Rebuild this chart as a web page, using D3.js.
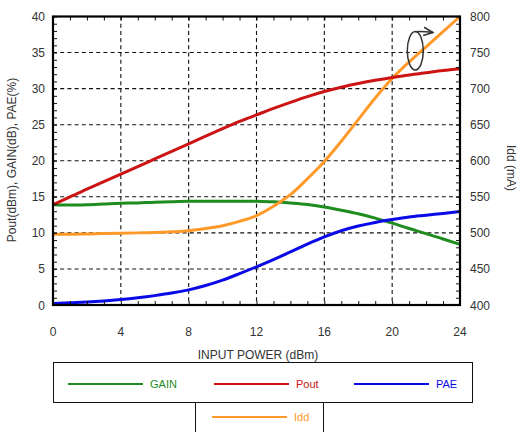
<!DOCTYPE html>
<html>
<head>
<meta charset="utf-8">
<script src="https://cdn.jsdelivr.net/npm/d3@7"></script>
<style>
  html, body { margin: 0; padding: 0; background: #fff; }
  svg { display: block; font-family: "Liberation Sans", Arial, sans-serif; }
</style>
</head>
<body>
<svg id="chart" width="520" height="432"></svg>
<script>
// Input power sweep (dBm)
const inputPower = [0,1,2,3,4,5,6,7,8,9,10,11,12,13,14,15,16,17,18,19,20,21,22,23,24];
// Output power (dBm)
const pout = [13.9,15.0,16.05,17.1,18.15,19.2,20.25,21.3,22.35,23.4,24.45,25.45,26.35,27.25,28.1,28.9,29.6,30.2,30.7,31.15,31.55,31.9,32.2,32.5,32.75];
// Gain (dB)
const gain = [13.9,13.85,13.9,14.0,14.1,14.15,14.25,14.3,14.4,14.4,14.4,14.4,14.4,14.3,14.15,13.95,13.6,13.15,12.65,12.05,11.35,10.6,9.9,9.15,8.4];
// Power added efficiency (%)
const pae = [0.2,0.3,0.4,0.55,0.75,1.0,1.3,1.65,2.1,2.7,3.45,4.35,5.3,6.3,7.35,8.45,9.45,10.3,10.95,11.45,11.85,12.2,12.45,12.7,12.95];
// Drain current (mA)
const idd = [498,498,498.5,499,499.5,500,500.5,501.5,503,506,510,516,524,537,553,575,599,627,657,687,714,737,758,779,800];

const xTicks = [0,4,8,12,16,20,24];
const yLeftTicks = [0,5,10,15,20,25,30,35,40];
const yRightTicks = [400,450,500,550,600,650,700,750,800];

const colors = { gain: "#1e8c1e", pout: "#cc1414", pae: "#0a0ae6", idd: "#ff9a2a" };

const svg = d3.select("#chart");
const L = 53, R = 460, T = 16.5, B = 305;

const x = d3.scaleLinear().domain([0, 24]).range([L, R]);
const yL = d3.scaleLinear().domain([0, 40]).range([B, T]);
const yR = d3.scaleLinear().domain([400, 800]).range([B, T]);

// dashed grid
const grid = svg.append("g").attr("stroke", "#111").attr("stroke-width", 1.1).attr("stroke-dasharray", "4,3.2");
xTicks.slice(1, -1).forEach(v => {
  grid.append("line").attr("x1", x(v)).attr("x2", x(v)).attr("y1", T).attr("y2", B);
});
yLeftTicks.slice(1, -1).forEach(v => {
  grid.append("line").attr("x1", L).attr("x2", R).attr("y1", yL(v)).attr("y2", yL(v));
});

// series
const lineFor = (ys, scale) => d3.line()
  .x((d, i) => x(inputPower[i]))
  .y(d => scale(d))
  .curve(d3.curveMonotoneX)(ys);

const series = [
  { v: gain, s: yL, c: colors.gain },
  { v: idd, s: yR, c: colors.idd },
  { v: pae, s: yL, c: colors.pae },
  { v: pout, s: yL, c: colors.pout }
];
series.forEach(d => {
  svg.append("path").attr("d", lineFor(d.v, d.s))
    .attr("fill", "none").attr("stroke", d.c).attr("stroke-width", 3)
    .attr("stroke-linejoin", "round").attr("stroke-linecap", "butt");
});

// axes with inward ticks
const tickLen = 4;
const bottomAxis = d3.axisBottom(x).tickValues(d3.range(0, 25, 1)).tickSize(-tickLen).tickFormat("");
const topAxis = d3.axisTop(x).tickValues(d3.range(0, 25, 1)).tickSize(-tickLen).tickFormat("");
const leftAxis = d3.axisLeft(yL).tickValues(d3.range(0, 41, 1)).tickSize(-tickLen).tickFormat("");
const rightAxis = d3.axisRight(yR).tickValues(d3.range(400, 801, 10)).tickSize(-tickLen).tickFormat("");

function styleAxis(g) {
  g.select(".domain").remove();
  g.selectAll(".tick line").attr("stroke", "#111").attr("stroke-width", 1);
}
svg.append("g").attr("transform", `translate(0,${B})`).call(bottomAxis).call(styleAxis);
svg.append("g").attr("transform", `translate(0,${T})`).call(topAxis).call(styleAxis);
svg.append("g").attr("transform", `translate(${L},0)`).call(leftAxis).call(styleAxis);
svg.append("g").attr("transform", `translate(${R},0)`).call(rightAxis).call(styleAxis);

// frame
svg.append("rect").attr("x", L).attr("y", T).attr("width", R - L).attr("height", B - T)
  .attr("fill", "none").attr("stroke", "#000").attr("stroke-width", 2.2);

// tick labels
const labelColor = "#333";
svg.append("g").selectAll("text").data(xTicks).join("text")
  .attr("x", d => x(d)).attr("y", 336).attr("text-anchor", "middle")
  .attr("font-size", 12).attr("fill", labelColor).text(d => d);
svg.append("g").selectAll("text").data(yLeftTicks).join("text")
  .attr("x", 45).attr("y", d => yL(d) + 4.5).attr("text-anchor", "end")
  .attr("font-size", 12).attr("fill", labelColor).text(d => d);
svg.append("g").selectAll("text").data(yRightTicks).join("text")
  .attr("x", 470).attr("y", d => yR(d) + 4.5).attr("text-anchor", "start")
  .attr("font-size", 12).attr("fill", labelColor).text(d => d);

// axis titles
svg.append("text").attr("x", 258).attr("y", 359).attr("text-anchor", "middle")
  .attr("font-size", 12).attr("fill", labelColor).text("INPUT POWER (dBm)");
svg.append("text").attr("transform", `translate(16,160) rotate(-90)`).attr("text-anchor", "middle")
  .attr("font-size", 12).attr("fill", labelColor).text("Pout(dBm), GAIN(dB), PAE(%)");
svg.append("text").attr("transform", `translate(507,168) rotate(90)`).attr("text-anchor", "middle")
  .attr("font-size", 12).attr("fill", labelColor).text("Idd (mA)");

// ellipse marker with arrow pointing to the right axis
svg.append("defs").append("marker").attr("id", "arrow").attr("viewBox", "0 0 10 10")
  .attr("refX", 9).attr("refY", 5).attr("markerWidth", 7).attr("markerHeight", 7)
  .attr("orient", "auto").append("path").attr("d", "M0,1 L9,5 L0,9")
  .attr("fill", "none").attr("stroke", "#333").attr("stroke-width", 1.5);
svg.append("ellipse").attr("cx", 415.3).attr("cy", 50.8).attr("rx", 8).attr("ry", 19.2)
  .attr("fill", "none").attr("stroke", "#333").attr("stroke-width", 1.5);
svg.append("path").attr("d", "M415,31.8 Q420,31 433,32.5")
  .attr("fill", "none").attr("stroke", "#333").attr("stroke-width", 1.5)
  .attr("marker-end", "url(#arrow)");

// legend
const legendItems = [
  { name: "GAIN", c: colors.gain, x1: 68, y: 384 },
  { name: "Pout", c: colors.pout, x1: 214, y: 384 },
  { name: "PAE", c: colors.pae, x1: 354, y: 384 },
  { name: "Idd", c: colors.idd, x1: 212, y: 417 }
];
svg.append("rect").attr("x", 53.5).attr("y", 362.5).attr("width", 419).attr("height", 40)
  .attr("fill", "none").attr("stroke", "#111").attr("stroke-width", 1);
svg.append("path").attr("d", "M195.5,440 L195.5,402.5 L323.5,402.5 L323.5,440")
  .attr("fill", "none").attr("stroke", "#111").attr("stroke-width", 1);
const lg = svg.append("g").selectAll("g").data(legendItems).join("g");
lg.append("line").attr("x1", d => d.x1).attr("x2", d => d.x1 + 75)
  .attr("y1", d => d.y).attr("y2", d => d.y).attr("stroke", d => d.c).attr("stroke-width", 2.2);
lg.append("text").attr("x", d => d.x1 + 82).attr("y", d => d.y + 4)
  .attr("font-size", 11).attr("fill", d => d.c).text(d => d.name);
</script>
</body>
</html>
